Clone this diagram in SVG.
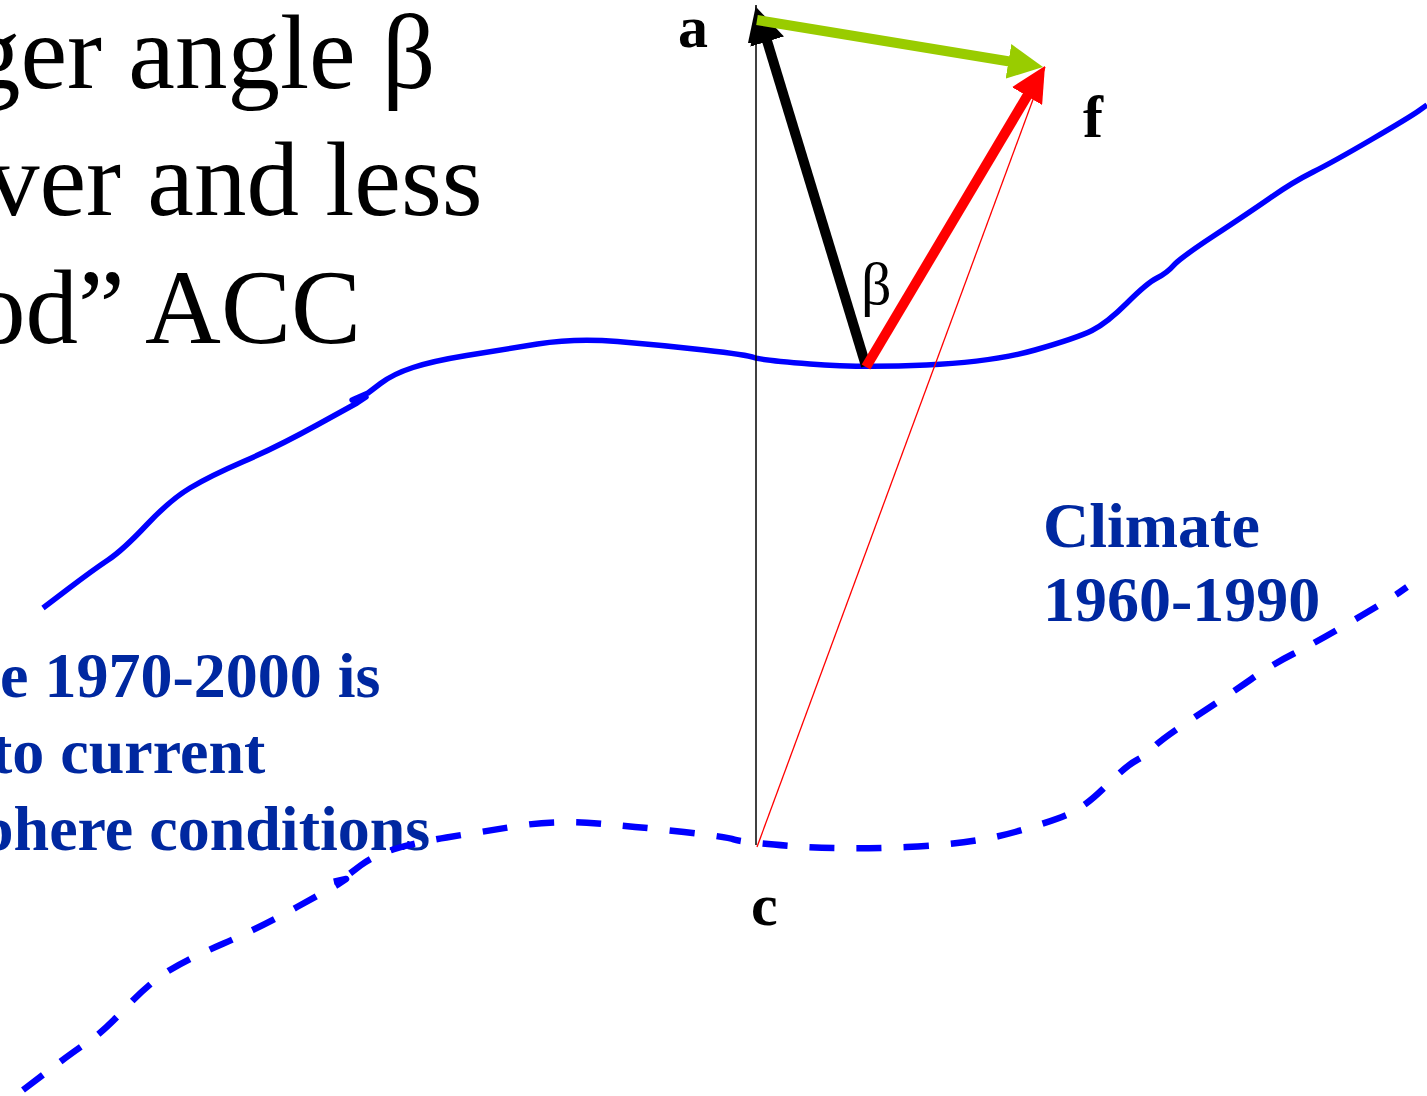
<svg xmlns="http://www.w3.org/2000/svg" width="1427" height="1096" viewBox="0 0 1427 1096">
<style>
.title{font-family:"Liberation Serif","Times New Roman",serif;font-size:105px;fill:#000}
.lbl{font-family:"Liberation Serif","Times New Roman",serif;font-size:60px;font-weight:bold;fill:#000}
.blue{font-family:"Liberation Serif","Times New Roman",serif;font-size:64px;font-weight:bold;fill:#0028A0}
.beta{font-family:"Liberation Serif","Times New Roman",serif;font-size:60px;fill:#000}
.curve{fill:none;stroke:#0000FF;stroke-width:5.5;stroke-linejoin:round}
.dashed{stroke-width:6.5;stroke-dasharray:25 22}
.thick{fill:none;stroke-width:10}
</style>
<defs>
<marker id="hk" markerUnits="userSpaceOnUse" viewBox="0 0 35 35" markerWidth="35" markerHeight="35" refX="20" refY="17.5" orient="auto"><path d="M0,0 L35,17.5 L0,35 z" fill="#000"/></marker>
<marker id="hr" markerUnits="userSpaceOnUse" viewBox="0 0 35 35" markerWidth="35" markerHeight="35" refX="20" refY="17.5" orient="auto"><path d="M0,0 L35,17.5 L0,35 z" fill="#FF0000"/></marker>
<marker id="hg" markerUnits="userSpaceOnUse" viewBox="0 0 35 35" markerWidth="35" markerHeight="35" refX="20" refY="17.5" orient="auto"><path d="M0,0 L35,17.5 L0,35 z" fill="#99CC00"/></marker>
<marker id="ht" markerUnits="userSpaceOnUse" viewBox="0 0 38 16" markerWidth="38" markerHeight="16" refX="38" refY="8" orient="auto"><path d="M0,0 L38,8 L0,16 z" fill="#000"/></marker>
<path id="ccurve" d="M43,608 L68,589 Q93,570 108,560 Q123,550 146.5,525 Q170,500 190,488 Q210,476 243.5,461.5 Q277,447 317,425 L357,403 L366,397 L352,400 L368,393 L380.5,383.5 Q393,374 413,367.5 Q433,361 466.5,355.5 Q500,350 537.5,344 Q575,338 617.5,341.5 Q660,345 704,350 Q748,355 754,357.5 Q760,360 810,364 Q860,368 926.5,365 Q993,362 1035,350 Q1077,338 1092,330.5 Q1107,323 1127,303 Q1147,283 1157,278 Q1167,273 1173.5,265.5 Q1180,258 1215,235 Q1250,212 1271.5,197 Q1293,182 1313,172 Q1333,162 1371.5,139.5 Q1410,117 1418.5,111 L1427,105"/>
</defs>

<g id="title">
<text class="title" x="-32" y="88">ger angle β</text>
<text class="title" x="-13" y="215">ver and less</text>
<text class="title" x="-27" y="343">od” ACC</text>
</g>

<g id="climate-1970-2000">
<use href="#ccurve" class="curve"/>
<text class="blue" x="0" y="697">e 1970-2000 is</text>
<text class="blue" x="-9" y="773">to current</text>
<text class="blue" x="-22" y="850">phere conditions</text>
</g>

<g id="climate-1960-1990">
<use href="#ccurve" class="curve dashed" transform="translate(-20,482)"/>
<text class="blue" x="1043" y="547">Climate</text>
<text class="blue" x="1043" y="621">1960-1990</text>
</g>

<g id="connectors">
<line x1="756" y1="845" x2="756" y2="5" stroke="#000" stroke-width="1.5" marker-end="url(#ht)"/>
<line x1="757" y1="847" x2="1045" y2="67" stroke="#FF0000" stroke-width="1.3"/>
<line class="thick" x1="866" y1="366" x2="761.4" y2="22.4" stroke="#000" marker-end="url(#hk)"/>
<line class="thick" x1="866" y1="367" x2="1037.3" y2="78.9" stroke="#FF0000" marker-end="url(#hr)"/>
<line class="thick" x1="757" y1="20" x2="1028.2" y2="64.6" stroke="#99CC00" stroke-width="11" marker-end="url(#hg)"/>
</g>

<g id="node-a"><text class="lbl" x="678" y="47">a</text></g>
<g id="node-f"><text class="lbl" x="1083" y="137">f</text></g>
<g id="node-c"><text class="lbl" x="751" y="925">c</text></g>
<g id="node-beta"><text class="beta" x="861" y="304">β</text></g>
</svg>
